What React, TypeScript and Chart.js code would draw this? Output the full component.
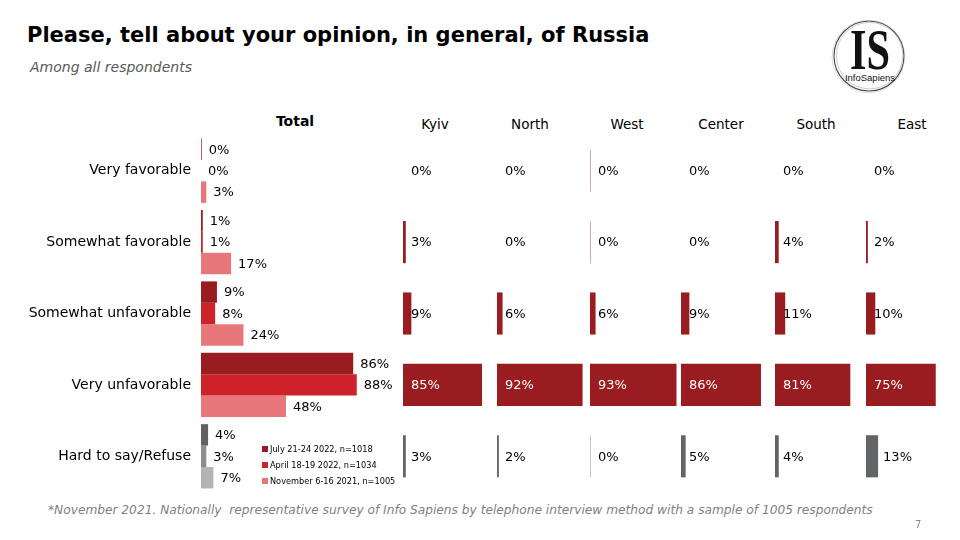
import React, { useEffect, useRef } from "react";
import { Chart, registerables } from "chart.js";

Chart.register(...registerables);

const CATEGORIES = [
  "Very favorable",
  "Somewhat favorable",
  "Somewhat unfavorable",
  "Very unfavorable",
  "Hard to say/Refuse",
];
const SERIES_LABELS = [
  "July 21-24 2022, n=1018",
  "April 18-19 2022, n=1034",
  "November 6-16 2021, n=1005",
];
const JULY_2022 = [0.4, 1, 9, 86, 4];
const APRIL_2022 = [0, 1, 8, 88, 3];
const NOV_2021 = [3, 17, 24, 48, 7];

const REGIONS = ["Kyiv", "North", "West", "Center", "South", "East"];
const KYIV = [0, 3, 9, 85, 3];
const NORTH = [0, 0, 6, 92, 2];
const WEST = [0.4, 0.4, 6, 93, 0.4];
const CENTER = [0, 0, 9, 86, 5];
const SOUTH = [0, 4, 11, 81, 4];
const EAST = [0, 2, 10, 75, 13];
const REGION_VALUES = [KYIV, NORTH, WEST, CENTER, SOUTH, EAST];

const FONT = "'DejaVu Sans', Verdana, sans-serif";

const RED_DARK = "#991C20";
const RED_MID = "#CD2229";
const RED_LIGHT = "#E8777B";
const GRAY_DARK = "#5F6163";
const GRAY_MID = "#8C8D8F";
const GRAY_LIGHT = "#B4B4B4";

const PLOT_TOP = 135;
const PLOT_HEIGHT = 357;

const fmt = (v: number) => Math.round(v) + "%";

const totalLabelPlugin = {
  id: "totalLabels",
  afterDatasetsDraw(chart: any) {
    const ctx = chart.ctx;
    ctx.save();
    ctx.font = `13px ${FONT}`;
    ctx.fillStyle = "#000";
    ctx.textAlign = "left";
    ctx.textBaseline = "middle";
    chart.data.datasets.forEach((ds: any, di: number) => {
      const meta = chart.getDatasetMeta(di);
      meta.data.forEach((el: any, i: number) => {
        ctx.fillText(fmt(ds.data[i]), el.x + 7, el.y + 1);
      });
    });
    ctx.restore();
  },
};

const regionLabelPlugin = {
  id: "regionLabels",
  afterDatasetsDraw(chart: any) {
    const ctx = chart.ctx;
    ctx.save();
    ctx.font = `13px ${FONT}`;
    ctx.textAlign = "left";
    ctx.textBaseline = "middle";
    const ds = chart.data.datasets[0];
    const meta = chart.getDatasetMeta(0);
    meta.data.forEach((el: any, i: number) => {
      const v = ds.data[i];
      const w = el.x - el.base;
      let x = el.base + 8;
      ctx.fillStyle = "#000";
      if (v >= 50) {
        ctx.fillStyle = "#fff";
      } else if (w > 12) {
        x = el.x + 5;
      }
      ctx.fillText(fmt(v), x, el.y + 1);
    });
    ctx.restore();
  },
};

function TotalChart() {
  const ref = useRef<HTMLCanvasElement>(null);
  useEffect(() => {
    const hardIdx = CATEGORIES.length - 1;
    const colorsFor = (red: string, gray: string) =>
      CATEGORIES.map((_, i) => (i === hardIdx ? gray : red));
    const chart = new Chart(ref.current!, {
      type: "bar",
      data: {
        labels: CATEGORIES,
        datasets: [
          {
            label: SERIES_LABELS[0],
            data: JULY_2022,
            backgroundColor: colorsFor(RED_DARK, GRAY_DARK),
          },
          {
            label: SERIES_LABELS[1],
            data: APRIL_2022,
            backgroundColor: colorsFor(RED_MID, GRAY_MID),
          },
          {
            label: SERIES_LABELS[2],
            data: NOV_2021,
            backgroundColor: colorsFor(RED_LIGHT, GRAY_LIGHT),
          },
        ],
      },
      options: {
        indexAxis: "y",
        animation: false,
        responsive: false,
        devicePixelRatio: 1,
        datasets: { bar: { categoryPercentage: 0.9, barPercentage: 1, borderWidth: 0 } },
        layout: { autoPadding: false, padding: { left: 0, right: 22, top: 0, bottom: 0 } },
        plugins: { legend: { display: false }, tooltip: { enabled: false } },
        scales: {
          x: { display: false, min: 0, max: 100 },
          y: {
            grid: { display: false, drawTicks: false },
            border: { display: false },
            ticks: { color: "#000", font: { family: FONT, size: 14 }, padding: 10 },
            afterFit: (s: any) => {
              s.width = 201;
              s.paddingTop = 0;
              s.paddingBottom = 0;
            },
          },
        },
      } as any,
      plugins: [totalLabelPlugin],
    });
    return () => chart.destroy();
  }, []);
  return (
    <canvas
      ref={ref}
      width={400}
      height={PLOT_HEIGHT}
      style={{ position: "absolute", left: 0, top: PLOT_TOP, width: 400, height: PLOT_HEIGHT }}
    />
  );
}

const REGION_EXTRA = 40;

function RegionChart({ values, left, width }: { values: number[]; left: number; width: number }) {
  const ref = useRef<HTMLCanvasElement>(null);
  useEffect(() => {
    const hardIdx = CATEGORIES.length - 1;
    const chart = new Chart(ref.current!, {
      type: "bar",
      data: {
        labels: CATEGORIES,
        datasets: [
          {
            data: values,
            backgroundColor: CATEGORIES.map((_, i) => (i === hardIdx ? "#636466" : RED_DARK)),
            categoryPercentage: 0.59,
            barPercentage: 1,
            borderWidth: 0,
          },
        ],
      },
      options: {
        indexAxis: "y",
        animation: false,
        responsive: false,
        devicePixelRatio: 1,
        layout: { autoPadding: false, padding: { left: 0, right: REGION_EXTRA, top: 0, bottom: 0 } },
        plugins: { legend: { display: false }, tooltip: { enabled: false } },
        scales: {
          x: { display: false, min: 0, max: 100 },
          y: { display: false },
        },
      } as any,
      plugins: [regionLabelPlugin],
    });
    return () => chart.destroy();
  }, []);
  return (
    <canvas
      ref={ref}
      width={width + REGION_EXTRA}
      height={PLOT_HEIGHT}
      style={{
        position: "absolute",
        left,
        top: PLOT_TOP,
        width: width + REGION_EXTRA,
        height: PLOT_HEIGHT,
      }}
    />
  );
}

const REGION_LEFTS = [403, 497, 590, 681, 775, 866];
const REGION_HEADER_X = [435, 530, 627, 721, 816, 912];

export default function App() {
  const legendColors = [RED_DARK, RED_MID, RED_LIGHT];
  return (
    <div
      style={{
        position: "absolute",
        left: 0,
        top: 0,
        width: 960,
        height: 540,
        background: "#fff",
        overflow: "hidden",
        fontFamily: FONT,
      }}
    >
      <div
        style={{
          position: "absolute",
          left: 27,
          top: 23,
          fontSize: 21,
          fontWeight: "bold",
          color: "#000",
          whiteSpace: "nowrap",
        }}
      >
        Please, tell about your opinion, in general, of Russia
      </div>
      <div
        style={{
          position: "absolute",
          left: 30,
          top: 59,
          fontSize: 14,
          fontStyle: "italic",
          color: "#595959",
          whiteSpace: "nowrap",
        }}
      >
        Among all respondents
      </div>

      <svg width={84} height={84} style={{ position: "absolute", left: 827, top: 14 }}>
        <circle cx={42} cy={42} r={35} fill="none" stroke="#444" strokeWidth={1.1} />
        <circle cx={42.6} cy={41.6} r={33.2} fill="none" stroke="#aaa" strokeWidth={0.6} />
        <circle cx={41.5} cy={42.5} r={36.3} fill="none" stroke="#bbb" strokeWidth={0.5} />
        <g transform="translate(43,0) scale(0.92,1.25)">
          <text
            x={0}
            y={44}
            textAnchor="middle"
            fontFamily="'Liberation Serif', 'DejaVu Serif', serif"
            fontWeight="bold"
            fontSize={46}
            fill="#111"
          >
            IS
          </text>
        </g>
        <text
          x={43}
          y={67}
          textAnchor="middle"
          fontFamily="'Liberation Sans', Arial, sans-serif"
          fontSize={9.5}
          fill="#111"
        >
          InfoSapiens
        </text>
      </svg>

      <div
        style={{
          position: "absolute",
          left: 255,
          width: 80,
          textAlign: "center",
          top: 113,
          fontSize: 14,
          fontWeight: "bold",
          color: "#000",
        }}
      >
        Total
      </div>
      {REGIONS.map((r, i) => (
        <div
          key={r}
          style={{
            position: "absolute",
            left: REGION_HEADER_X[i] - 40,
            width: 80,
            textAlign: "center",
            top: 116,
            fontSize: 13.5,
            color: "#000",
          }}
        >
          {r}
        </div>
      ))}

      <TotalChart />
      {REGION_VALUES.map((v, i) => (
        <RegionChart key={REGIONS[i]} values={v} left={REGION_LEFTS[i]} width={93} />
      ))}

      <div style={{ position: "absolute", left: 262, top: 441 }}>
        {SERIES_LABELS.map((s, i) => (
          <div
            key={s}
            style={{
              display: "flex",
              alignItems: "center",
              height: 16,
              fontSize: 8.2,
              color: "#000",
              whiteSpace: "nowrap",
            }}
          >
            <span
              style={{
                display: "inline-block",
                width: 6,
                height: 6,
                background: legendColors[i],
                marginRight: 2,
              }}
            />
            {s}
          </div>
        ))}
      </div>

      <div
        style={{
          position: "absolute",
          left: 48,
          top: 503,
          fontSize: 12.2,
          fontStyle: "italic",
          color: "#7F7F7F",
          whiteSpace: "pre",
        }}
      >
        {"*November 2021. Nationally  representative survey of Info Sapiens by telephone interview method with a sample of 1005 respondents"}
      </div>
      <div style={{ position: "absolute", left: 915, top: 519, fontSize: 10, color: "#8C8C8C" }}>7</div>
    </div>
  );
}
